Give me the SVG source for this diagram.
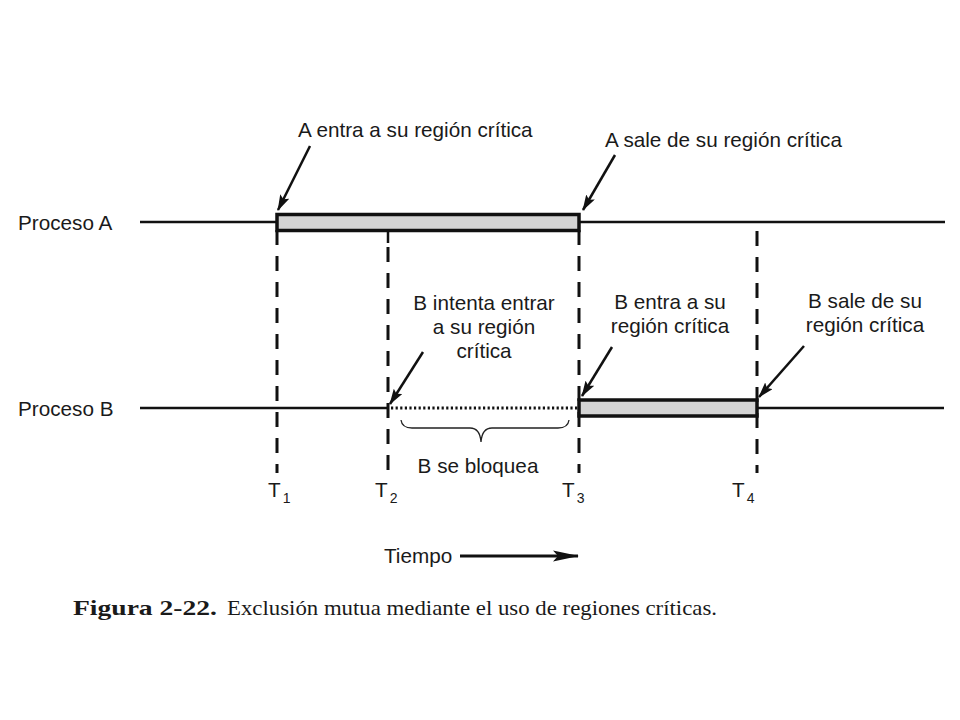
<svg xmlns="http://www.w3.org/2000/svg" width="960" height="720" viewBox="0 0 960 720">
<defs>
<marker id="ah" markerWidth="16" markerHeight="10" refX="15" refY="5" orient="auto" markerUnits="userSpaceOnUse">
<path d="M0,0 L16,5 L0,10 L3,5 Z" fill="#111"/>
</marker>
<marker id="th" markerWidth="26" markerHeight="12" refX="25" refY="6" orient="auto" markerUnits="userSpaceOnUse">
<path d="M0,0.5 L26,6 L0,11.5 L5,6 Z" fill="#111"/>
</marker>
</defs>
<style>
.lbl{font-family:"Liberation Sans",Arial,sans-serif;font-size:20.7px;fill:#1a1a1a}
.sub{font-size:14px}
.tl{stroke:#111;stroke-width:2.5;fill:none}
.dash{stroke:#111;stroke-width:3;stroke-dasharray:15 11;fill:none}
.crit{fill:#d4d4d4;stroke:#111;stroke-width:3.5}
.callout{stroke:#111;stroke-width:2.5;fill:none;marker-end:url(#ah)}
.cap{font-family:"Liberation Serif","Times New Roman",serif;font-size:21px;fill:#1a1a1a}
</style>
<rect width="960" height="720" fill="#fff"/>

<g id="timeline-A">
<text class="lbl" x="18" y="230">Proceso A</text>
<line class="tl" x1="140" y1="222" x2="277" y2="222"/>
<line class="tl" x1="579" y1="222" x2="945" y2="222"/>
</g>

<g id="timeline-B">
<text class="lbl" x="18" y="416">Proceso B</text>
<line class="tl" x1="140" y1="408" x2="389" y2="408"/>
<line x1="391" y1="408" x2="579" y2="408" stroke="#111" stroke-width="3" stroke-dasharray="2.2 2.4"/>
<line class="tl" x1="757" y1="408" x2="944" y2="408"/>
</g>

<g id="markers">
<line class="tl" x1="388" y1="230" x2="388" y2="243"/>
<line class="dash" x1="277" y1="230" x2="277" y2="473"/>
<line class="dash" x1="388" y1="247" x2="388" y2="473"/>
<line class="dash" x1="579" y1="230" x2="579" y2="473"/>
<line class="dash" x1="757" y1="231" x2="757" y2="473"/>
</g>

<g id="region-A">
<rect class="crit" x="277" y="214.5" width="302" height="16"/>
</g>
<g id="region-B">
<rect class="crit" x="579" y="400" width="178" height="16"/>
</g>

<g id="labels-T">
<text class="lbl" x="268" y="497">T<tspan class="sub" dx="2" dy="6">1</tspan></text>
<text class="lbl" x="375" y="497">T<tspan class="sub" dx="2" dy="6">2</tspan></text>
<text class="lbl" x="562" y="497">T<tspan class="sub" dx="2" dy="6">3</tspan></text>
<text class="lbl" x="732" y="497">T<tspan class="sub" dx="2" dy="6">4</tspan></text>
</g>

<g id="note-A-entra">
<text class="lbl" x="298" y="137">A entra a su región crítica</text>
</g>
<g id="note-A-sale">
<text class="lbl" x="605" y="147">A sale de su región crítica</text>
</g>
<g id="note-B-intenta">
<text class="lbl" text-anchor="middle" x="484" y="310">B intenta entrar</text>
<text class="lbl" text-anchor="middle" x="484" y="334">a su región</text>
<text class="lbl" text-anchor="middle" x="484" y="358">crítica</text>
</g>
<g id="note-B-entra">
<text class="lbl" text-anchor="middle" x="670" y="309">B entra a su</text>
<text class="lbl" text-anchor="middle" x="670" y="333">región crítica</text>
</g>
<g id="note-B-sale">
<text class="lbl" text-anchor="middle" x="865" y="308">B sale de su</text>
<text class="lbl" text-anchor="middle" x="865" y="332">región crítica</text>
</g>
<g id="note-bloquea">
<path d="M401,420 Q402,428 412,428 L470,428 Q480,428 481,442 Q482,428 492,428 L558,428 Q568,428 569,420" fill="none" stroke="#222" stroke-width="1.3"/>
<text class="lbl" text-anchor="middle" x="478" y="473">B se bloquea</text>
</g>

<g id="connectors">
<line class="callout" x1="310" y1="146" x2="278" y2="210"/>
<line class="callout" x1="615" y1="155" x2="583" y2="210"/>
<line class="callout" x1="423" y1="352" x2="390" y2="404"/>
<line class="callout" x1="612" y1="347" x2="582" y2="396"/>
<line class="callout" x1="804" y1="346" x2="759" y2="397"/>
<line x1="460" y1="556" x2="578" y2="556" stroke="#111" stroke-width="3.2" marker-end="url(#th)"/>
</g>

<g id="time-label">
<text class="lbl" x="384" y="563">Tiempo</text>
</g>

<g id="caption">
<text class="cap" x="73" y="615" font-weight="bold" textLength="144" lengthAdjust="spacingAndGlyphs">Figura 2-22.</text>
<text class="cap" x="227" y="615" textLength="490" lengthAdjust="spacingAndGlyphs">Exclusión mutua mediante el uso de regiones críticas.</text>
</g>
</svg>
